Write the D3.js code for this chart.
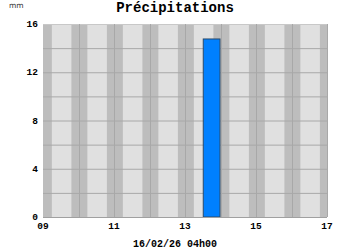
<!DOCTYPE html>
<html><head><meta charset="utf-8">
<script src="https://cdn.jsdelivr.net/npm/d3@7"></script>
<style>body{margin:0;background:#fff}svg{display:block}</style>
</head><body>
<script>
const title = "Précipitations";
const unit = "mm";
const dateLabel = "16/02/26 04h00";
const xTicks = [9, 11, 13, 15, 17];
const xTickLabels = ["09", "11", "13", "15", "17"];
const yTicks = [0, 4, 8, 12, 16];
const barStart = [13.5];
const barEnd = [14.0];
const barValues = [14.8];

const W = 350, H = 250;
const m = {l: 43, r: 23, t: 24, b: 33};
const svg = d3.select("body").append("svg").attr("width", W).attr("height", H);
const x = d3.scaleLinear().domain([9, 17]).range([m.l, W - m.r]);
const y = d3.scaleLinear().domain([0, 16]).range([H - m.b, m.t]);
const font = "'Liberation Mono','DejaVu Sans Mono',monospace";

svg.append("rect").attr("x", x(9)).attr("y", y(16)).attr("width", x(17) - x(9)).attr("height", y(0) - y(16)).attr("fill", "#e0e0e0");
const hours = d3.range(9, 18);
svg.selectAll(".band").data(hours).enter().append("rect")
  .attr("x", d => x(Math.max(9, d - 0.2)))
  .attr("width", d => x(Math.min(17, d + 0.25)) - x(Math.max(9, d - 0.2)))
  .attr("y", y(16)).attr("height", y(0) - y(16)).attr("fill", "#bdbdbd");
svg.selectAll(".hg").data(d3.range(2, 17, 2)).enter().append("line")
  .attr("x1", x(9)).attr("x2", x(17)).attr("y1", d => y(d) + 0.5).attr("y2", d => y(d) + 0.5)
  .attr("stroke", d => d === 16 ? "#c8c8c8" : "#a8a8a8").attr("stroke-width", 1);
svg.selectAll(".vg").data(d3.range(10, 18)).enter().append("line")
  .attr("x1", d => Math.round(x(d)) + 0.5).attr("x2", d => Math.round(x(d)) + 0.5)
  .attr("y1", y(16)).attr("y2", y(0)).attr("stroke", "#a8a8a8");

svg.selectAll(".bar").data(barValues).enter().append("rect")
  .attr("x", (d, i) => x(barStart[i]) + 0.5)
  .attr("width", (d, i) => x(barEnd[i]) - x(barStart[i]) - 1)
  .attr("y", d => y(d) + 0.5)
  .attr("height", d => y(0) - y(d) - 0.5)
  .attr("fill", "#0080ff").attr("stroke", "#2a4a6a").attr("stroke-width", 1);

svg.append("line").attr("x1", x(9)).attr("x2", x(17)).attr("y1", y(0) + 0.5).attr("y2", y(0) + 0.5).attr("stroke", "#a0a0a0");

svg.selectAll(".yl").data(yTicks).enter().append("text")
  .attr("x", 38).attr("y", d => y(d) + 3)
  .attr("text-anchor", "end").attr("font-family", font).attr("font-weight", "bold").attr("font-size", 9.5)
  .attr("fill", "#000").text(d => d);
svg.selectAll(".xl").data(xTicks).enter().append("text")
  .attr("x", d => x(d)).attr("y", y(0) + 12)
  .attr("text-anchor", "middle").attr("font-family", font).attr("font-weight", "bold").attr("font-size", 9.5)
  .attr("fill", "#000").text((d, i) => xTickLabels[i]);

svg.append("text").attr("x", 175).attr("y", 12).attr("text-anchor", "middle")
  .attr("font-family", font).attr("font-weight", "bold").attr("font-size", 14).text(title);
svg.append("text").attr("x", 9).attr("y", 8)
  .attr("font-family", "'DejaVu Sans',sans-serif").attr("font-size", 7.5).attr("fill", "#333").text(unit);
svg.append("text").attr("x", 175).attr("y", 247).attr("text-anchor", "middle")
  .attr("font-family", font).attr("font-weight", "bold").attr("font-size", 10).text(dateLabel);
</script>
</body></html>
